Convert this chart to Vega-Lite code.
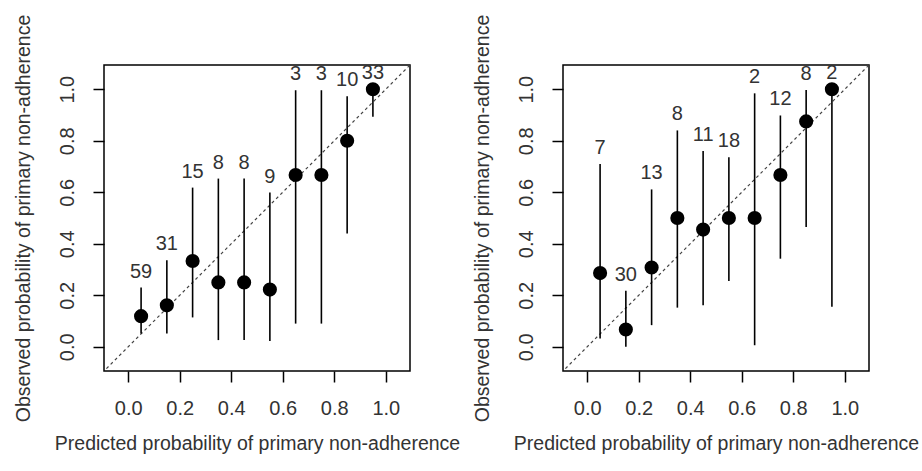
{
  "$schema": "https://vega.github.io/schema/vega-lite/v6.json",
  "padding": {"left": 12, "top": 13, "right": 0, "bottom": 0},
  "background": "white",
  "spacing": 10,
  "config": {
    "font": "Liberation Sans",
    "view": {"stroke": "black", "strokeWidth": 1.5},
    "axis": {"grid": false, "domain": false, "tickColor": "black", "tickSize": 11, "tickWidth": 1.5, "labelFont": "Liberation Sans", "labelFontSize": 20, "labelColor": "#333", "titleFont": "Liberation Sans", "titleFontSize": 19.5, "titleFontWeight": "normal", "titleColor": "#333", "values": [0, 0.2, 0.4, 0.6, 0.8, 1], "format": ".1f"},
    "axisX": {"labelPadding": 16, "titlePadding": 16},
    "axisY": {"labelAngle": -90, "labelPadding": 16, "titlePadding": 24}
  },
  "datasets": {
    "diag": [{"x": -0.2, "y": -0.2, "x2": 1.2, "y2": 1.2}],
    "left": [
      {"x": 0.05, "y": 0.119, "lo": 0.052, "hi": 0.23, "n": "59"},
      {"x": 0.15, "y": 0.161, "lo": 0.052, "hi": 0.336, "n": "31"},
      {"x": 0.25, "y": 0.333, "lo": 0.114, "hi": 0.618, "n": "15"},
      {"x": 0.35, "y": 0.25, "lo": 0.026, "hi": 0.653, "n": "8"},
      {"x": 0.45, "y": 0.25, "lo": 0.026, "hi": 0.653, "n": "8"},
      {"x": 0.55, "y": 0.222, "lo": 0.022, "hi": 0.599, "n": "9"},
      {"x": 0.65, "y": 0.667, "lo": 0.09, "hi": 0.996, "n": "3"},
      {"x": 0.75, "y": 0.667, "lo": 0.09, "hi": 0.996, "n": "3"},
      {"x": 0.85, "y": 0.8, "lo": 0.44, "hi": 0.973, "n": "10"},
      {"x": 0.95, "y": 1.0, "lo": 0.893, "hi": 1.0, "n": "33"}
    ],
    "right": [
      {"x": 0.05, "y": 0.286, "lo": 0.032, "hi": 0.71, "n": "7"},
      {"x": 0.15, "y": 0.067, "lo": 0.0, "hi": 0.218, "n": "30"},
      {"x": 0.25, "y": 0.308, "lo": 0.084, "hi": 0.611, "n": "13"},
      {"x": 0.35, "y": 0.5, "lo": 0.152, "hi": 0.84, "n": "8"},
      {"x": 0.45, "y": 0.455, "lo": 0.161, "hi": 0.76, "n": "11"},
      {"x": 0.55, "y": 0.5, "lo": 0.255, "hi": 0.736, "n": "18"},
      {"x": 0.65, "y": 0.5, "lo": 0.006, "hi": 0.984, "n": "2"},
      {"x": 0.75, "y": 0.667, "lo": 0.342, "hi": 0.898, "n": "12"},
      {"x": 0.85, "y": 0.875, "lo": 0.465, "hi": 0.997, "n": "8"},
      {"x": 0.95, "y": 1.0, "lo": 0.155, "hi": 1.0, "n": "2"}
    ]
  },
  "hconcat": [
    {
      "width": 306, "height": 306,
      "data": {"name": "left"},
      "layer": [
        {"data": {"name": "diag"}, "mark": {"type": "rule", "strokeDash": [3, 3], "color": "#444", "strokeWidth": 1.2, "clip": true},
         "encoding": {
           "x": {"field": "x", "type": "quantitative", "scale": {"domain": [-0.094, 1.094], "nice": false, "zero": false}, "title": "Predicted probability of primary non-adherence"},
           "y": {"field": "y", "type": "quantitative", "scale": {"domain": [-0.094, 1.094], "nice": false, "zero": false}, "title": "Observed probability of primary non-adherence"},
           "x2": {"field": "x2"}, "y2": {"field": "y2"}}},
        {"mark": {"type": "rule", "color": "black", "strokeWidth": 1.6},
         "encoding": {
           "x": {"field": "x", "type": "quantitative", "scale": {"domain": [-0.094, 1.094], "nice": false, "zero": false}, "title": "Predicted probability of primary non-adherence"},
           "y": {"field": "lo", "type": "quantitative", "scale": {"domain": [-0.094, 1.094], "nice": false, "zero": false}, "title": "Observed probability of primary non-adherence"},
           "y2": {"field": "hi"}}},
        {"mark": {"type": "point", "filled": true, "size": 200, "color": "black", "opacity": 1},
         "encoding": {
           "x": {"field": "x", "type": "quantitative", "scale": {"domain": [-0.094, 1.094], "nice": false, "zero": false}, "title": "Predicted probability of primary non-adherence"},
           "y": {"field": "y", "type": "quantitative", "scale": {"domain": [-0.094, 1.094], "nice": false, "zero": false}, "title": "Observed probability of primary non-adherence"}}},
        {"mark": {"type": "text", "dy": -16, "baseline": "middle", "fontSize": 20, "color": "#333", "clip": true},
         "encoding": {
           "x": {"field": "x", "type": "quantitative", "scale": {"domain": [-0.094, 1.094], "nice": false, "zero": false}, "title": "Predicted probability of primary non-adherence"},
           "y": {"field": "hi", "type": "quantitative", "scale": {"domain": [-0.094, 1.094], "nice": false, "zero": false}, "title": "Observed probability of primary non-adherence"},
           "text": {"field": "n"}}}
      ]
    },
    {
      "width": 306, "height": 306,
      "data": {"name": "right"},
      "layer": [
        {"data": {"name": "diag"}, "mark": {"type": "rule", "strokeDash": [3, 3], "color": "#444", "strokeWidth": 1.2, "clip": true},
         "encoding": {
           "x": {"field": "x", "type": "quantitative", "scale": {"domain": [-0.094, 1.094], "nice": false, "zero": false}, "title": "Predicted probability of primary non-adherence"},
           "y": {"field": "y", "type": "quantitative", "scale": {"domain": [-0.094, 1.094], "nice": false, "zero": false}, "title": "Observed probability of primary non-adherence"},
           "x2": {"field": "x2"}, "y2": {"field": "y2"}}},
        {"mark": {"type": "rule", "color": "black", "strokeWidth": 1.6},
         "encoding": {
           "x": {"field": "x", "type": "quantitative", "scale": {"domain": [-0.094, 1.094], "nice": false, "zero": false}, "title": "Predicted probability of primary non-adherence"},
           "y": {"field": "lo", "type": "quantitative", "scale": {"domain": [-0.094, 1.094], "nice": false, "zero": false}, "title": "Observed probability of primary non-adherence"},
           "y2": {"field": "hi"}}},
        {"mark": {"type": "point", "filled": true, "size": 200, "color": "black", "opacity": 1},
         "encoding": {
           "x": {"field": "x", "type": "quantitative", "scale": {"domain": [-0.094, 1.094], "nice": false, "zero": false}, "title": "Predicted probability of primary non-adherence"},
           "y": {"field": "y", "type": "quantitative", "scale": {"domain": [-0.094, 1.094], "nice": false, "zero": false}, "title": "Observed probability of primary non-adherence"}}},
        {"mark": {"type": "text", "dy": -16, "baseline": "middle", "fontSize": 20, "color": "#333", "clip": true},
         "encoding": {
           "x": {"field": "x", "type": "quantitative", "scale": {"domain": [-0.094, 1.094], "nice": false, "zero": false}, "title": "Predicted probability of primary non-adherence"},
           "y": {"field": "hi", "type": "quantitative", "scale": {"domain": [-0.094, 1.094], "nice": false, "zero": false}, "title": "Observed probability of primary non-adherence"},
           "text": {"field": "n"}}}
      ]
    }
  ]
}
